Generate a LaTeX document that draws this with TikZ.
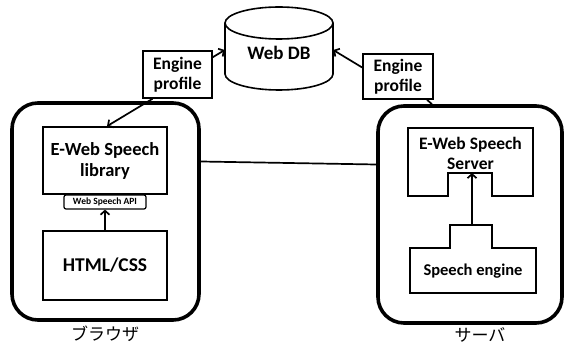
\documentclass[tikz,border=0pt]{standalone}
\usepackage{fontspec}
\setmainfont{Carlito}
\newfontfamily\jpfont{Noto Sans CJK JP}
\usepackage{tikz}
\usetikzlibrary{arrows.meta,positioning,shapes.geometric}

\begin{document}
\begin{tikzpicture}[
    x=1pt, y=-1pt,
    box/.style={rectangle, draw=black, line width=1.6pt, inner sep=0pt,
                align=center, font=\fontsize{18.5}{21}\selectfont\bfseries},
    tag/.style={rectangle, draw=black, line width=1.6pt, inner sep=0pt,
                align=center, font=\fontsize{17.5}{20}\selectfont\bfseries},
    apibox/.style={rectangle, draw=black, rounded corners=2pt, line width=1.2pt,
                   inner sep=0pt, font=\fontsize{9.5}{10}\selectfont\bfseries},
    group/.style={rectangle, draw=black, line width=3.6pt, rounded corners=26pt},
    outline/.style={line width=1.6pt},
    arr/.style={-{Straight Barb[length=4pt, width=9pt]}, line width=1.7pt},
    link/.style={line width=1.7pt},
    grouplabel/.style={font=\jpfont\fontsize{17}{20}\selectfont}
  ]
  \useasboundingbox (0,0) rectangle (565,347);

  %% ── Web DB (top) ───────────────────────────────────────────────────
  \node[font=\fontsize{19}{22}\selectfont\bfseries, minimum width=108pt,
        minimum height=51pt, inner sep=0pt]
                                    (db)   at (279,53)    {Web DB};
  \draw[outline] (225,23) -- (225,74)
        arc[start angle=180, end angle=360, x radius=54pt, y radius=16pt] -- (333,23);
  \draw[outline] (279,23) ellipse[x radius=54pt, y radius=16pt];
  \node[tag, minimum width=69pt, minimum height=47pt]
                                    (ep1)  at (177.5,74.5) {Engine\\profile};
  \node[tag, minimum width=70pt, minimum height=45pt]
                                    (ep2)  at (398,76.5)   {Engine\\profile};

  %% ── browser side (left) ────────────────────────────────────────────
  \node[group, minimum width=187pt, minimum height=217pt]
                                    (bro)  at (105.5,211.5) {};
  \node[box, minimum width=124pt, minimum height=67pt]
                                    (lib)  at (105,160.5)  {E-Web Speech\\library};
  \node[apibox, minimum width=82pt, minimum height=14pt]
                                    (api)  at (105,202)    {Web Speech API};
  \node[box, minimum width=124pt, minimum height=69pt, font=\fontsize{19.5}{24}\selectfont\bfseries]
                                    (html) at (105,265.5)  {HTML/CSS};
  \node[grouplabel]                 (brl)  at (105,334)    {ブラウザ};
  \draw[arr] (html) -- (api);

  %% ── server side (right) ────────────────────────────────────────────
  \node[group, minimum width=184pt, minimum height=217pt]
                                    (sv)   at (470,214.5)  {};
  \draw[outline] (408,128) -- (533,128) -- (533,196) -- (492,196)
        -- (492,173) -- (448,173) -- (448,196) -- (408,196) -- cycle;
  \node[font=\fontsize{17.5}{20}\selectfont\bfseries, align=center]
                                    (srv)  at (470.5,153)  {E-Web Speech\\Server};
  \draw[outline] (410,248) -- (450,248) -- (450,225) -- (492,225)
        -- (492,248) -- (536,248) -- (536,293) -- (410,293) -- cycle;
  \node[font=\fontsize{16.5}{19}\selectfont\bfseries]
                                    (eng)  at (473,271)    {Speech engine};
  \coordinate                       (tab)  at (472,225);
  \coordinate                       (notch) at (472,173);
  \draw[arr] (tab) -- (notch);
  \node[grouplabel]                 (svl)  at (480,335)    {サーバ};

  %% ── connectors ─────────────────────────────────────────────────────
  \draw[arr]  ([yshift=-7pt]ep1.north east) -- ([yshift=3pt]db.west);
  \draw[arr]  ([xshift=-25pt]ep1.south) -- ([xshift=2pt]lib.north);
  \draw[arr]  ([yshift=9pt]ep2.west) -- ([yshift=3pt]db.east);
  \draw[link] ([xshift=29pt]ep2.south) -- ([xshift=-38pt]sv.north);
  \draw[link] ([yshift=50pt]bro.east) -- ([yshift=50pt]sv.west);

\end{tikzpicture}
\end{document}
